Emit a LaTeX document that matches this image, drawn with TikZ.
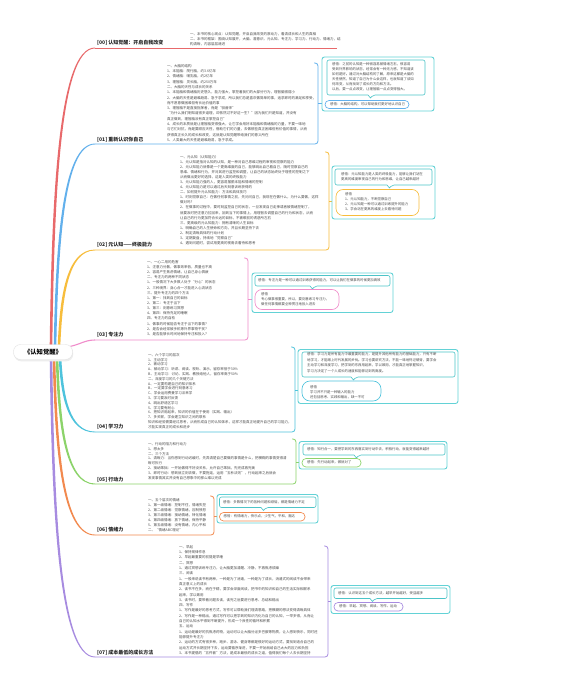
\documentclass[tikz,border=0pt]{standalone}
\usepackage{fontspec}
\setmainfont{Noto Sans CJK SC}
\usetikzlibrary{calc}
\definecolor{c00}{HTML}{E8696B}
\definecolor{c01}{HTML}{62B0EC}
\definecolor{c02}{HTML}{F7BD3C}
\definecolor{c03}{HTML}{F08CCB}
\definecolor{c04}{HTML}{4EC3DC}
\definecolor{c05}{HTML}{8CD36A}
\definecolor{c06}{HTML}{F2894E}
\definecolor{c07}{HTML}{A78BE0}
\definecolor{boxc}{HTML}{63D2D6}
\definecolor{bubc}{HTML}{4CC4C8}
\definecolor{txt}{HTML}{4A4A4A}
\tikzset{
  detail/.style={anchor=north west,inner sep=0pt,align=left,text=txt,font=\fontsize{3.5}{#1}\selectfont},
  detail/.default=5.1,
  lbl/.style={anchor=base west,inner sep=0pt,font=\fontsize{5}{6}\selectfont\bfseries,text=black!85},
  outerbox/.style={draw=boxc,line width=0.9pt,rounded corners=2.5pt,fill=white},
  bubble/.style={draw=bubc,line width=0.6pt,fill=white},
  pillbox/.style={line width=0.65pt,fill=white},
  btxt/.style={anchor=north west,inner sep=0pt,align=left,text=txt,font=\fontsize{3.4}{#1}\selectfont},
  btxt/.default=5,
  ptxt/.style={anchor=west,inner sep=0pt,text=txt,font=\fontsize{3.4}{5}\selectfont},
  wire/.style={line width=0.8pt,rounded corners=3pt},
  rootnode/.style={draw=black!12,fill=white,rounded corners=7pt,minimum width=59pt,minimum height=15pt,inner sep=0pt,font=\fontsize{6.3}{7}\selectfont\bfseries},
}
\newcommand\mmtaper[4]{%
  \fill[#1] let \p1=(#2), \p2=(#3) in
   (\x1-1.3pt,\y1) .. controls (\x1+0.7pt,{0.5*(\y1)+0.5*(\y2)}) and (\x1+7pt,{\y2+(#4)*0.45pt}) .. (\x2,{\y2+(#4)*0.45pt})
   -- (\x2,{\y2-(#4)*0.45pt}) .. controls (\x1+9pt,{\y2-(#4)*0.45pt}) and (\x1+3.3pt,{0.5*(\y1)+0.5*(\y2)}) .. (\x1+1.3pt,\y1) -- cycle;}
\newcommand\mmbubble[5]{\draw[bubble] (#5,#4) [rounded corners=2pt] -- (#1,#4) -- (#1,#2) -- (#3,#2) -- (#3,#4) -- ({#5+5},#4) [sharp corners] -- ({#5+2.5},{#4+3}) -- cycle;}
\begin{document}
\begin{tikzpicture}[x=1pt,y=-1pt]
\fill[white] (0,0) rectangle (583,690);
\useasboundingbox (0,0) rectangle (583,690);

% ---------- connector coordinates ----------
\coordinate (s00) at (51,346); \coordinate (e00) at (95,48);
\coordinate (s01) at (55,346); \coordinate (e01) at (95,144);
\coordinate (s02) at (59,346); \coordinate (e02) at (95,250);
\coordinate (s03) at (67,347); \coordinate (e03) at (95,340);
\coordinate (s04) at (60,358); \coordinate (e04) at (95,432);
\coordinate (s05) at (57,358); \coordinate (e05) at (95,484);
\coordinate (s06) at (54,358); \coordinate (e06) at (95,535);
\coordinate (s07) at (51,358); \coordinate (e07) at (95,657);

\mmtaper{c00}{s00}{e00}{1}
\mmtaper{c01}{s01}{e01}{1}
\mmtaper{c02}{s02}{e02}{1}
\draw[c03,line width=1.1pt] (s03) .. controls (80,345) and (84,340) .. (e03);
\mmtaper{c04}{s04}{e04}{-1}
\mmtaper{c05}{s05}{e05}{-1}
\mmtaper{c06}{s06}{e06}{-1}
\mmtaper{c07}{s07}{e07}{-1}

\fill[black!7,rounded corners=7pt] (14.2,346.3) rectangle (73.2,361.3);
\node[rootnode] (root) at (43,352) {《认知觉醒》};

% ---------- underlines and brackets ----------
\coordinate (w00) at (337,48);
\draw[wire,c00] (e00) -- (w00);
\coordinate (t01) at (314,63);
\draw[wire,c01] (e01) -- (318,144) -- (318,63) -- (t01);
\draw[c01,line width=0.8pt] (318,103) -- (322,103);
\coordinate (t02) at (325,152);
\draw[wire,c02] (e02) -- (329,250) -- (329,152) -- (t02);
\draw[c02,line width=0.8pt] (329,201) -- (332,201);
\coordinate (t03) at (244,258);
\draw[wire,c03] (e03) -- (248,340) -- (248,258) -- (t03);
\draw[c03,line width=0.8pt] (248,299) -- (252,299);
\coordinate (t04) at (291,347);
\draw[wire,c04] (e04) -- (295,432) -- (295,347) -- (t04);
\draw[c04,line width=0.8pt] (295,390) -- (298,390);
\coordinate (t05) at (292,439);
\draw[wire,c05] (e05) -- (296,484) -- (296,439) -- (t05);
\draw[c05,line width=0.8pt] (296,462) -- (299,462);
\coordinate (t06) at (210,496);
\draw[wire,c06] (e06) -- (214,535) -- (214,496) -- (t06);
\draw[c06,line width=0.8pt] (214,516) -- (217,516);
\coordinate (t07) at (324,546);
\draw[wire,c07] (e07) -- (328,657) -- (328,546) -- (t07);
\draw[c07,line width=0.8pt] (328,601) -- (331,601);

% ---------- labels ----------
\node[lbl] (l00) at (97,44.8) {[00] 认知觉醒：开启自我改变};
\node[lbl] (l01) at (97,141.8) {[01] 重新认识你自己};
\node[lbl] (l02) at (97,246.8) {[02] 元认知——终极能力};
\node[lbl] (l03) at (97,336.8) {[03] 专注力};
\node[lbl] (l04) at (97,428.8) {[04] 学习力};
\node[lbl] (l05) at (97,481.8) {[05] 行动力};
\node[lbl] (l06) at (97,531.8) {[06] 情绪力};
\node[lbl] (l07) at (97,654.8) {[07] 成本最低的成长方法};

% ---------- detail texts ----------
\node[detail=5.0] (d00) at (190,32.2) {一、本书的核心观点：认知觉醒，开启自我改变的原动力，看清成长和人生的真相\\
二、本书的框架：围绕认知展开，大脑、潜意识、元认知、专注力、学习力、行动力、情绪力，结\\
构清晰，内容层层递进};

\node[detail=5.29] (d01) at (167,64.2) {一、大脑的结构\\
1、本能脑：爬行脑，约3.6亿年\\
2、情绪脑：哺乳脑，约2亿年\\
3、理智脑：灵长脑，约250万年\\
二、大脑的天性与成长的关系\\
1、本能脑和情绪脑历史悠久，能力强大，掌控着我们的大部分行为，理智脑很弱小\\
2、大脑的天性是避难趋易、急于求成，所以我们总是喜欢做简单的事，追求即时的满足和享受，\\
而不愿意做困难但有长远价值的事\\
3、理智脑不是直接指挥者，而是“驯兽师”\\
“为什么我们明知道很多道理，却依然过不好这一生？”因为我们只是知道，并没有\\
真正做到，理智脑没有真正掌控自己”\\
4、成长的本质就是让理智脑变得强大，让它学会用好本能脑和情绪脑的力量，不要一味地\\
与它们对抗，而是要顺应天性，借助它们的力量，去做那些真正困难但有价值的事情，从而\\
获得真正长久的成长和改变，这就是认知觉醒带给我们的意义所在\\
5、人类最大的天性是避难趋易，急于求成。};

\node[detail=5.06] (d02) at (180,155.2) {一、元认知（认知能力）\\
1、元认知是指对认知的认知，是一种对自己思维过程的审视和觉察的能力\\
2、元认知能力就像是一个更高维度的自己，能够跳出自己看自己，随时觉察自己的\\
思维、情绪和行为，并对其进行监控和调整，让自己的状态始终处于理性的控制之下\\
从而做出更好的选择，这是人类的终极能力\\
3、元认知能力强的人，更容易摆脱本能和情绪的控制\\
4、元认知能力是可以通过后天刻意训练获得的\\
二、如何提升元认知能力：方法和具体技巧\\
1、时刻觉察自己：在做任何事情之前，先问问自己，我现在在做什么，为什么要做，这样\\
做对吗？\\
2、在做事的过程中，要时刻监控自己的状态，一旦发现自己走神或者被情绪控制了，\\
就要及时把注意力拉回来，回到当下的事情上，用理智去调整自己的行为和状态，从而\\
让自己的行为更加符合长远的目标，不被眼前的诱惑所左右\\
三、更高级的元认知能力：拥有清晰的人生目标\\
1、明确自己的人生使命和方向，并且长期坚持下去\\
2、制定清晰具体的行动计划\\
3、定期复盘，持续地“觉察自己”\\
4、遇到问题时，尝试用更高的视角去看待和思考};

\node[detail=5.14] (d03) at (147,260.2) {一、一心二用的危害\\
1、注意力分散，做事效率低，质量也不高\\
2、容易产生焦虑情绪，让自己身心俱疲\\
二、专注力的两种不同状态\\
1、一般情况下大多数人处于“分心”的状态\\
2、三种境界：身心合一才能进入心流状态\\
三、提升专注力的四个方法\\
1、第一：找到自己的目标\\
2、第二：专注于当下\\
3、第三：刻意练习冥想\\
4、第四：保持充足的睡眠\\
四、专注力的自检\\
1、做事的时候能否专注于当下的事情？\\
2、是否会经常被手机等外界事物干扰？\\
3、是否能够长时间地保持专注和投入？};

\node[detail=4.8] (d04) at (148,353.2) {一、六个学习的层次\\
1、主动学习\\
2、被动学习\\
A、被动学习：听讲、阅读、视听、演示，留存率低于30\%\\
B、主动学习：讨论、实践、教授给他人，留存率高于50\%\\
二、深度学习的几个关键方法\\
A、一定要构建自己的知识体系\\
B、一定要学会进行刻意练习\\
C、学会运用费曼学习法来学\\
3、学习要及时反馈\\
4、跳出舒适区学习\\
5、学习要有耐心\\
6、把知识用起来，知识的价值在于使用（实践、输出）\\
7、多关联，学会建立知识之间的联系\\
知识和经验需要经过思考，从而形成自己的认知体系，这样才能真正地提升自己的学习能力，\\
才能实现真正的成长和进步};

\node[detail=4.86] (d05) at (148,442.2) {一、行动的阻力和行动力\\
1、想太多\\
二、三个方法\\
1、清晰力：当你感到行动迟缓时，先弄清楚自己要做的事情是什么，把模糊的事情变得清\\
晰可执行\\
2、接纳笨拙：一开始做得不好没关系，允许自己笨拙，先完成再完美\\
3、即时行动：想到就立刻去做，不要拖延，运用“五秒法则”，行动起来之后就会\\
发现事情其实并没有自己想象中的那么难以完成};

\node[detail=5.0] (d06) at (148,498.2) {一、五个层次的情绪\\
1、第一级情绪：控制不住，情绪失控\\
2、第二级情绪：觉察情绪，压制愤怒\\
3、第三级情绪：接纳情绪，转化情绪\\
4、第四级情绪：放下情绪，保持平静\\
5、第五级情绪：没有情绪，内心平和\\
二、“情绪ABC理论”};

\node[detail=5.3] (d07) at (179,545.2) {一、早起\\
1、保持规律作息\\
2、早起最重要的前提是早睡\\
二、冥想\\
1、通过冥想训练专注力，让大脑更加清醒、冷静，不再焦虑烦躁\\
三、阅读\\
1、一般来说读书有两种，一种是为了消遣，一种是为了成长，消遣式的阅读不会带来\\
真正意义上的成长\\
2、读书不在多，而在于精，要学会深度阅读，把书中的知识和自己的生活实际相联系\\
起来，学以致用\\
3、读书时，要带着问题去读，读完之后要进行思考、总结和输出\\
四、写作\\
1、写作是最好的思考方式，写作可以帮助我们理清思路，把模糊的想法变得清晰具体\\
2、写作是一种输出，通过写作可以把学到的知识内化为自己的认知，一举多得，从而让\\
自己的认知水平得到不断提升，形成一个良性的循环和积累\\
五、运动\\
1、运动是最好的抗焦虑药物，运动可以让大脑分泌多巴胺等物质，让人感到快乐，同时还\\
能够提升专注力\\
2、运动的方式有很多种，跑步、游泳、健身等都是很好的运动方式，要找到适合自己的\\
运动方式并长期坚持下去，运动要循序渐进，不要一开始就给自己太大的压力和负担\\
3、本书提倡的“五件套”方法，是成本最低的成长之道，值得我们每个人去长期坚持};

% ---------- box 01 ----------
\draw[outerbox] (322,57) rectangle (434,111);
\mmbubble{327}{60}{425}{95}{368}
\node[btxt] (b01) at (332,62.3) {感悟：之前的认知是一种很容易被情绪左右，很容易\\
受到外界影响的状态，经常会有一种无力感，不知道该\\
如何是好。通过对大脑结构的了解，原来这都是大脑的\\
天性使然，知道了自己为什么会这样，也就知道了该如\\
何改变，从而找到了成长的方向和方法。\\
以后，要一点点改变，让理智脑一点点变得强大。};
\draw[pillbox,draw=c01,rounded corners=4pt] (325,100.5) rectangle (409,108.5);
\node[ptxt] (p01) at (330,104.5) {感悟：大脑的结构，可以帮助我们更好地认识自己};

% ---------- box 02 ----------
\draw[outerbox] (332,166) rectangle (435,219);
\mmbubble{335}{169}{432}{185}{387}
\node[btxt] (b02) at (341,172.3) {感悟：元认知能力是人类的终极能力，能够让我们站在\\
更高的维度审视自己的行为和思维，让自己越来越好};
\draw[pillbox,draw=c02,rounded corners=7pt] (336,189.5) rectangle (419,215.5);
\node[btxt] (p02) at (345,192.3) {感悟\\
1、元认知能力，不断觉察自己\\
2、元认知是一种可以通过训练提升的能力\\
3、学会站在更高的维度上去看待问题};

% ---------- box 03 ----------
\draw[outerbox] (252,273) rectangle (393,312.5);
\mmbubble{255}{275.5}{390}{286}{310}
\node[btxt] (b03) at (258,278.9) {感悟：专注力是一种可以通过训练获得的能力，可以让我们在做事的时候更加高效};
\draw[pillbox,draw=c03,rounded corners=7pt] (255,289.5) rectangle (339,309.5);
\node[btxt] (p03) at (261,292.5) {感悟\\
专心做事很重要，所以，要刻意练习专注力，\\
做任何事情都要全神贯注地投入进去};

% ---------- box 04 ----------
\draw[outerbox] (298,349.5) rectangle (458,403.5);
\mmbubble{302}{352}{455}{377}{351}
\node[btxt=5.6] (b04) at (307,352.6) {感悟：学习力是所有能力中最重要的能力，是提升其他所有能力的基础能力，只有不断\\
地学习，才能跟上时代发展的步伐。学习也要讲究方法，不能一味地死记硬背，要学会\\
主动学习和深度学习，把学到的东西用起来，学以致用，才能真正地掌握知识，\\
学习力决定了一个人成长的速度和能够达到的高度。};
\draw[pillbox,draw=c04,rounded corners=8pt] (302,381) rectangle (381,401);
\node[btxt] (p04) at (310,385.3) {感悟\\
学习并不只是一种输入的能力\\
还包括思考、实践和输出，缺一不可};

% ---------- box 05 ----------
\draw[outerbox] (299,441.5) rectangle (447,469);
\mmbubble{303}{444}{445}{455}{354}
\node[btxt] (b05) at (307,447.8) {感悟：知行合一，要把学到的东西落实到行动中去，积极行动，就能变得越来越好};
\draw[pillbox,draw=c05,rounded corners=4pt] (302,458.5) rectangle (361,467);
\node[ptxt] (p05) at (307,462.7) {感悟：先行动起来，做就对了};

% ---------- box 06 ----------
\draw[outerbox] (217,494.5) rectangle (318,523);
\mmbubble{219.5}{497}{316}{507.5}{261}
\node[btxt] (b06) at (223,500.3) {感悟：多数情况下的各种问题和烦恼，都是情绪力不足};
\draw[pillbox,draw=c06,rounded corners=4pt] (219.5,512.5) rectangle (305,521);
\node[ptxt] (p06) at (223.5,516.7) {感悟：有情绪力，快乐点，少生气，平和，豁达};

% ---------- box 07 ----------
\draw[outerbox] (331,585.5) rectangle (450,613.5);
\mmbubble{334}{588}{447}{598.5}{370}
\node[btxt] (b07) at (338,591.5) {感悟：认识到这五个成长方法，越早开始越好，受益越多};
\draw[pillbox,draw=c07,rounded corners=4pt] (334,602.5) rectangle (403,611);
\node[ptxt] (p07) at (339,606.7) {感悟：早起、冥想、阅读、写作、运动};
\end{tikzpicture}
\end{document}
